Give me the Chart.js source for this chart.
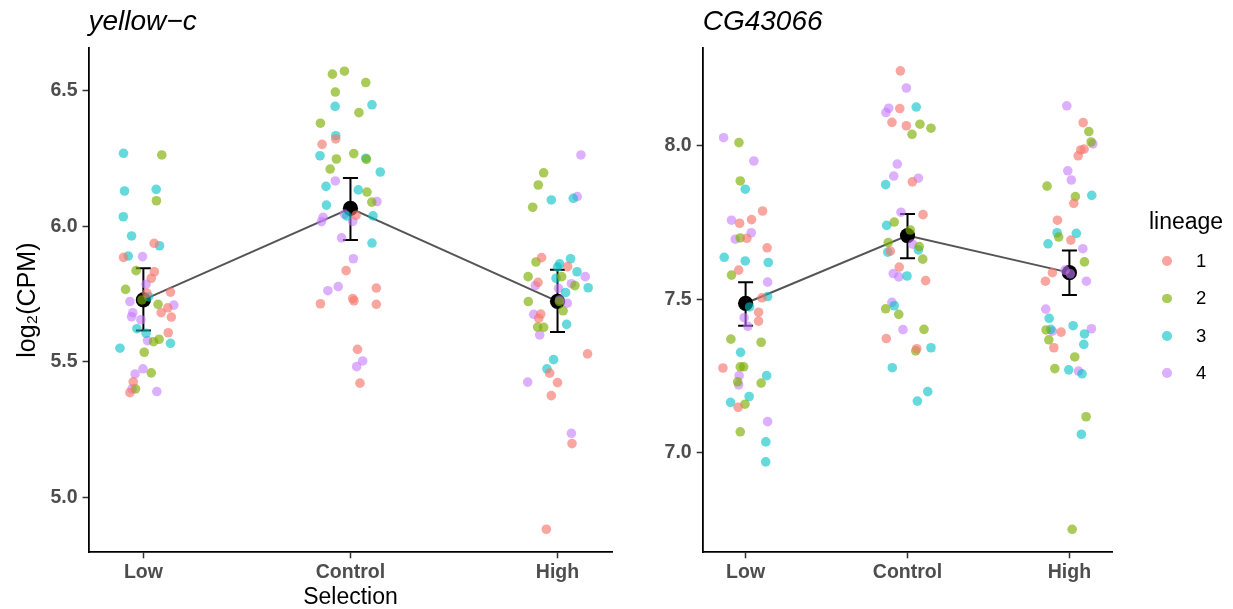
<!DOCTYPE html>
<html>
<head>
<meta charset="utf-8">
<script src="https://cdn.jsdelivr.net/npm/chart.js@4.4.0/dist/chart.umd.min.js"></script>
<style>
html, body { margin: 0; padding: 0; background: #fff; }
#wrap { position: relative; width: 1233px; height: 609px; font-family: "Liberation Sans", Arial, Helvetica, sans-serif; }
.panel { position: absolute; top: 0; }
#legend .lt { position: absolute; left: 1126px; width: 120px; top: 208px; text-align: center; font-size: 23px; line-height: 26px; color: #000; }
#legend .dot { position: absolute; width: 9.6px; height: 9.6px; border-radius: 50%; }
#legend .lab { position: absolute; left: 1196px; font-size: 18.5px; line-height: 20px; color: #000; }
</style>
</head>
<body>
<div id="wrap">
  <canvas id="c1" class="panel" width="620" height="609" style="left:0"></canvas>
  <canvas id="c2" class="panel" width="613" height="609" style="left:620px"></canvas>
  <div id="legend"></div>
</div>
<script>
// groups on the x axis
var groups = ['Low', 'Control', 'High'];
var groupPos = [1, 2, 3];
var lineages = ['1', '2', '3', '4'];
var lineageColors = ['rgba(248,118,109,0.65)', 'rgba(124,174,0,0.65)', 'rgba(0,191,196,0.6)', 'rgba(199,124,255,0.6)'];

// yellow-c : [x (group + jitter), log2 CPM]
var yc1 = [[1.052,5.937],[0.904,5.885],[1.053,5.832],[1.038,5.808],[1.131,5.757],[1.017,5.753],[1.118,5.699],[1.086,5.681],[1.135,5.665],[1.120,5.607],[0.951,5.426],[0.935,5.386],
  [1.929,6.322],[1.863,6.302],[2.027,6.040],[1.979,5.836],[2.125,5.772],[2.011,5.733],[2.017,5.725],[1.855,5.714],[2.125,5.712],[2.034,5.546],[2.046,5.421],
  [2.923,5.884],[3.049,5.851],[2.906,5.793],[2.919,5.676],[2.909,5.660],[3.145,5.529],[2.962,5.458],[3.000,5.423],[2.970,5.375],[3.070,5.198],[2.946,4.882]];
var yc2 = [[1.089,6.263],[1.063,6.094],[0.965,5.836],[0.914,5.767],[0.993,5.728],[1.071,5.712],[1.049,5.574],[1.076,5.583],[1.004,5.535],[1.038,5.459],[0.962,5.400],
  [1.913,6.561],[1.971,6.572],[2.074,6.530],[1.927,6.495],[2.041,6.419],[1.855,6.380],[1.932,6.248],[2.016,6.268],[2.077,6.247],[1.902,6.211],[2.080,6.126],[2.103,6.089],
  [2.933,6.197],[2.907,6.152],[2.880,6.070],[2.896,5.868],[2.858,5.814],[3.020,5.814],[3.084,5.781],[3.009,5.722],[3.027,5.688],[2.859,5.722],[2.904,5.628],[2.933,5.627]];
var yc3 = [[0.904,6.269],[0.909,6.130],[1.062,6.136],[0.903,6.035],[0.943,5.964],[1.078,5.928],[0.927,5.890],[1.025,5.740],[0.969,5.622],[1.013,5.605],[0.887,5.550],[1.131,5.568],
  [1.926,6.442],[2.104,6.448],[1.929,6.334],[1.853,6.260],[2.074,6.251],[2.144,6.200],[1.882,6.147],[2.038,6.134],[1.884,6.078],[1.982,6.038],[2.109,6.038],[2.104,5.938],
  [2.970,6.097],[3.076,6.103],[3.063,5.880],[3.010,5.861],[3.000,5.849],[3.094,5.832],[2.993,5.808],[3.148,5.773],[3.039,5.755],[3.044,5.638],[2.981,5.508],[2.949,5.474]];
var yc4 = [[0.996,5.888],[1.013,5.786],[0.935,5.722],[1.147,5.709],[0.949,5.681],[0.943,5.666],[0.988,5.655],[1.020,5.578],[0.998,5.474],[0.960,5.455],[0.945,5.400],[1.065,5.390],
  [1.927,6.167],[2.128,6.091],[1.868,6.033],[1.860,6.017],[1.971,6.045],[2.011,6.018],[1.957,5.957],[2.014,5.880],[1.891,5.762],[1.941,5.777],[2.059,5.503],[2.030,5.482],
  [3.113,6.263],[3.095,6.109],[3.134,5.814],[2.893,5.781],[3.005,5.771],[3.067,5.788],[3.010,5.728],[3.047,5.716],[2.885,5.675],[2.914,5.599],[2.856,5.425],[3.067,5.236]];
var ycMean = [5.728, 6.066, 5.723];
var ycLow = [5.615, 5.949, 5.610];
var ycHigh = [5.845, 6.178, 5.839];
var ycTicks = [5.0, 5.5, 6.0, 6.5];

// CG43066
var cg1 = [[1.105,7.788],[0.963,7.748],[1.037,7.760],[1.008,7.699],[1.133,7.668],[0.957,7.595],[1.101,7.505],[1.080,7.458],[1.080,7.429],[0.860,7.276],[0.954,7.148],
  [1.956,8.245],[1.952,8.122],[1.904,8.077],[1.993,8.066],[2.030,7.883],[2.096,7.776],[1.894,7.657],[1.949,7.605],[2.112,7.561],[1.869,7.372],[2.057,7.339],
  [3.085,8.076],[3.091,7.990],[3.070,7.987],[3.054,7.968],[3.027,7.813],[2.926,7.758],[3.009,7.693],[2.895,7.587],[2.852,7.559],[2.949,7.393],[2.904,7.342]];
var cg2 = [[0.959,8.011],[0.967,7.886],[0.967,7.700],[0.913,7.579],[0.909,7.370],[1.096,7.360],[0.967,7.280],[0.988,7.280],[0.951,7.231],[1.096,7.227],[0.996,7.158],[0.967,7.068],
  [2.077,8.071],[2.145,8.058],[2.028,8.038],[1.918,7.752],[2.017,7.726],[1.881,7.685],[2.073,7.672],[2.094,7.631],[1.865,7.469],[1.946,7.451],[2.102,7.402],[2.051,7.332],
  [3.120,8.047],[3.134,8.013],[2.862,7.869],[3.037,7.835],[2.934,7.703],[3.093,7.622],[2.856,7.400],[2.873,7.368],[3.033,7.312],[2.910,7.274],[3.103,7.117],[3.017,6.750]];
var cg3 = [[0.998,7.859],[0.868,7.637],[0.998,7.625],[1.140,7.620],[1.136,7.509],[1.025,7.475],[0.969,7.327],[1.130,7.251],[0.907,7.164],[1.022,7.183],[1.125,7.035],[1.124,6.970],
  [2.054,8.127],[1.865,7.874],[1.871,7.741],[2.067,7.661],[1.878,7.654],[1.997,7.576],[1.918,7.479],[2.145,7.342],[1.906,7.277],[2.125,7.199],[2.061,7.168],
  [3.138,7.839],[2.924,7.717],[3.043,7.715],[2.868,7.681],[2.875,7.438],[2.885,7.402],[3.023,7.414],[3.093,7.387],[3.089,7.353],[2.996,7.270],[3.078,7.257],[3.074,7.060]];
var cg4 = [[0.864,8.027],[1.051,7.951],[0.913,7.758],[1.035,7.717],[0.936,7.696],[1.136,7.556],[0.991,7.440],[1.014,7.412],[0.960,7.251],[0.957,7.221],[1.136,7.101],
  [1.993,8.189],[1.884,8.123],[1.867,8.109],[1.937,7.941],[1.915,7.902],[2.067,7.895],[1.960,7.784],[2.032,7.680],[1.912,7.584],[1.946,7.573],[1.904,7.490],[1.972,7.401],
  [2.984,8.131],[3.145,8.007],[2.990,7.919],[3.012,7.889],[3.083,7.665],[2.973,7.595],[3.006,7.583],[3.105,7.559],[2.854,7.468],[2.895,7.396],[3.136,7.404],[3.056,7.266]];
var cgMean = [7.487, 7.708, 7.587];
var cgLow = [7.414, 7.634, 7.514];
var cgHigh = [7.556, 7.778, 7.659];
var cgTicks = [7.0, 7.5, 8.0];

Chart.defaults.font.family = '"Liberation Sans", Arial, Helvetica, sans-serif';

var errBars = {
  id: 'errbars',
  beforeDatasetsDraw: function (chart, args, opts) {
    var ctx = chart.ctx, xs = chart.scales.x, ys = chart.scales.y;
    ctx.save();
    ctx.strokeStyle = '#000';
    ctx.lineWidth = 2;
    for (var i = 0; i < groupPos.length; i++) {
      var px = xs.getPixelForValue(groupPos[i]);
      var y1 = ys.getPixelForValue(opts.lo[i]), y2 = ys.getPixelForValue(opts.hi[i]);
      ctx.beginPath();
      ctx.moveTo(px, y1); ctx.lineTo(px, y2);
      ctx.moveTo(px - 7.5, y1); ctx.lineTo(px + 7.5, y1);
      ctx.moveTo(px - 7.5, y2); ctx.lineTo(px + 7.5, y2);
      ctx.stroke();
    }
    ctx.restore();
  }
};

function toXY(arr) {
  return arr.map(function (p) { return {x: p[0], y: p[1]}; });
}

function makePanel(id, title, series, means, lo, hi, yMin, yMax, yTicks, yWidth, padRight, showTitles) {
  var datasets = series.map(function (s, i) {
    return {
      type: 'scatter', label: lineages[i], data: toXY(s),
      backgroundColor: lineageColors[i], borderWidth: 0, pointRadius: 4.8, order: 1
    };
  });
  var meanPts = groupPos.map(function (g, i) { return {x: g, y: means[i]}; });
  datasets.push({type: 'scatter', label: 'mean', data: meanPts, backgroundColor: '#000', borderWidth: 0, pointRadius: 7.6, order: 2});
  datasets.push({type: 'line', label: 'trend', data: meanPts, borderColor: '#555', borderWidth: 2, pointRadius: 0, fill: false, order: 3});

  var tickFont = {size: 19.5, weight: 'bold'};
  return new Chart(document.getElementById(id), {
    type: 'scatter',
    data: {datasets: datasets},
    plugins: [errBars],
    options: {
      responsive: false,
      animation: false,
      events: [],
      layout: {padding: {left: 0, right: padRight, top: 0, bottom: 0}},
      plugins: {
        legend: {display: false},
        tooltip: {enabled: false},
        title: {
          display: true, text: title, align: 'start', fullSize: false, color: '#000',
          font: {size: 28, style: 'italic', weight: 'normal'},
          padding: {top: 5, bottom: 9.4}
        },
        errbars: {lo: lo, hi: hi}
      },
      scales: {
        x: {
          type: 'linear', min: 0.735, max: 3.265,
          afterBuildTicks: function (s) { s.ticks = groupPos.map(function (v) { return {value: v}; }); },
          afterFit: function (s) { s.height = 56.7; },
          ticks: {
            autoSkip: false, maxRotation: 0, padding: 3, color: '#4d4d4d', font: tickFont,
            callback: function (v, i) { return groups[i]; }
          },
          grid: {drawOnChartArea: false, drawTicks: true, tickLength: 6, tickColor: '#333', tickWidth: 1.5},
          border: {color: '#000', width: 1.8},
          title: {display: showTitles, text: 'Selection', color: '#000', font: {size: 23, lineHeight: 1}, padding: {top: 0, bottom: 0}}
        },
        y: {
          type: 'linear', min: yMin, max: yMax,
          afterBuildTicks: function (s) { s.ticks = yTicks.map(function (v) { return {value: v}; }); },
          afterFit: function (s) { s.width = yWidth; },
          ticks: {
            padding: 5, color: '#4d4d4d', font: tickFont,
            callback: function (v) { return Number(v).toFixed(1); }
          },
          grid: {drawOnChartArea: false, drawTicks: true, tickLength: 6, tickColor: '#333', tickWidth: 1.5},
          border: {color: '#000', width: 1.8},
          title: {display: showTitles, text: 'log\u2082(CPM)', color: '#000', font: {size: 25, lineHeight: 1.2}, padding: {top: 13, bottom: 0}}
        }
      }
    }
  });
}

makePanel('c1', 'yellow\u2212c', [yc1, yc2, yc3, yc4], ycMean, ycLow, ycHigh, 4.797, 6.6575, ycTicks, 88.5, 7.1, true);
makePanel('c2', 'CG43066', [cg1, cg2, cg3, cg4], cgMean, cgLow, cgHigh, 6.675, 8.3195, cgTicks, 82.7, 120.7, false);

// legend for lineage colours
var leg = document.getElementById('legend');
var html = '<div class="lt">lineage</div>';
lineages.forEach(function (l, i) {
  var cy = 261 + i * 37.4;
  html += '<span class="dot" style="left:1162px;top:' + (cy - 4.8) + 'px;background:' + lineageColors[i] + '"></span>';
  html += '<span class="lab" style="top:' + (cy - 10) + 'px">' + l + '</span>';
});
leg.innerHTML = html;
</script>
</body>
</html>
